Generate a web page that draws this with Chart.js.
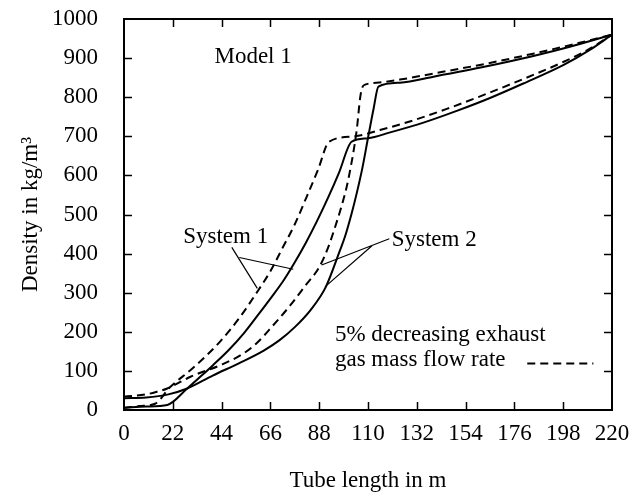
<!DOCTYPE html>
<html>
<head>
<meta charset="utf-8">
<script src="https://cdn.jsdelivr.net/npm/chart.js@4/dist/chart.umd.min.js"></script>
<style>
html,body{margin:0;padding:0;background:#fff;}
#wrap{width:639px;height:502px;}
</style>
</head>
<body>
<div id="wrap"><canvas id="c" width="639" height="502"></canvas></div>
<script>
// ---- data ----
const xTicks = [0, 22, 44, 66, 88, 110, 132, 154, 176, 198, 220];
const yTicks = [0, 100, 200, 300, 400, 500, 600, 700, 800, 900, 1000];

// System 1, base exhaust gas mass flow rate (solid)
const system1Solid = [
  [0, 6], [10, 9], [19.5, 13], [28.5, 55], [35, 88], [40, 114], [47, 152], [54, 196], [60, 240], [66, 285],
  [72, 332], [77, 378], [82, 428], [87, 483], [92, 543], [97, 608], [102.6, 686],
  [110, 695], [120, 710], [135, 735], [150, 765], [165, 798], [180, 835], [198, 882], [210, 921], [220, 960]
];
// System 1, 5% decreased flow (dashed)
const system1Dashed = [
  [0, 5], [7, 10], [14, 16], [20.7, 58], [31.2, 108], [43.3, 175], [52.6, 240], [59.8, 300],
  [66, 355], [71.8, 418], [77, 475], [82.4, 546], [87.5, 615], [92.4, 686],
  [104, 700], [115.4, 716], [130, 740], [145.5, 770], [160, 801], [175.5, 836], [198, 890], [210, 924], [220, 960]
];
// System 2, base flow (solid)
const system2Solid = [
  [0, 30], [10, 32], [20, 40], [28.5, 55], [40, 88], [52, 120], [63, 152], [70, 178],
  [77, 212], [84, 255], [91, 315], [97.4, 409], [99.6, 443], [102.5, 500], [104.9, 554],
  [107.5, 620], [110.1, 699], [112.5, 770], [114.7, 827],
  [124.4, 837], [140, 853], [163.5, 879], [185, 906], [201, 929], [220, 960]
];
// System 2, 5% decreased flow (dashed)
const system2Dashed = [
  [0, 34], [10, 40], [15, 47], [19.5, 55], [30, 85], [43.6, 115], [54, 145], [60, 172],
  [67, 215], [75, 268], [82, 320], [88, 365], [92, 415], [95, 465], [98, 520], [100.4, 571],
  [102.5, 630], [104, 680], [105, 720], [106.5, 800], [107.5, 826], [108.7, 832],
  [116, 838], [124.4, 845], [140, 861], [163.5, 886], [185, 912], [201, 933], [220, 960]
];

// ---- annotations (data coordinates) ----
const labelTexts = [
  { text: 'Model 1', x: 58.2, y: 903, align: 'center', base: 'middle' },
  { text: 'System 1', x: 26.7, y: 427, align: 'left', base: 'alphabetic' },
  { text: 'System 2', x: 120.7, y: 419, align: 'left', base: 'alphabetic' },
  { text: '5% decreasing exhaust', x: 95.1, y: 177, align: 'left', base: 'alphabetic' },
  { text: 'gas mass flow rate', x: 95.1, y: 113, align: 'left', base: 'alphabetic' }
];
const pointerLines = [
  [[48.6, 416], [60.1, 311]],
  [[52, 390], [76.3, 360]],
  [[119.6, 438], [89.1, 371]],
  [[111.8, 420], [90.6, 315]]
];
const legendDash = [[181.8, 119], [211.6, 119]];

const FONT = '"Liberation Serif", "Times New Roman", serif';
const FSIZE = 23;
const DASH = [8, 5];

function toXY(arr) { return arr.map(p => ({ x: p[0], y: p[1] })); }

const framePlugin = {
  id: 'frameAndNotes',
  afterDatasetsDraw(chart) {
    const { ctx, chartArea: a, scales: { x, y } } = chart;
    ctx.save();
    ctx.strokeStyle = '#000';
    ctx.lineWidth = 2;
    ctx.setLineDash([]);
    ctx.strokeRect(a.left, a.top, a.right - a.left, a.bottom - a.top);
    const tl = 8;
    ctx.lineWidth = 1.5;
    ctx.beginPath();
    xTicks.forEach(v => {
      if (v === xTicks[0] || v === xTicks[xTicks.length - 1]) return;
      const px = Math.round(x.getPixelForValue(v)) + 0.5;
      ctx.moveTo(px, a.bottom); ctx.lineTo(px, a.bottom - tl);
      ctx.moveTo(px, a.top); ctx.lineTo(px, a.top + tl);
    });
    yTicks.forEach(v => {
      if (v === yTicks[0] || v === yTicks[yTicks.length - 1]) return;
      const py = Math.round(y.getPixelForValue(v)) + 0.5;
      ctx.moveTo(a.left, py); ctx.lineTo(a.left + tl, py);
      ctx.moveTo(a.right, py); ctx.lineTo(a.right - tl, py);
    });
    ctx.stroke();
    ctx.lineWidth = 1.2;
    ctx.beginPath();
    pointerLines.forEach(l => {
      ctx.moveTo(x.getPixelForValue(l[0][0]), y.getPixelForValue(l[0][1]));
      ctx.lineTo(x.getPixelForValue(l[1][0]), y.getPixelForValue(l[1][1]));
    });
    ctx.stroke();
    ctx.lineWidth = 2;
    ctx.setLineDash(DASH);
    ctx.beginPath();
    ctx.moveTo(x.getPixelForValue(legendDash[0][0]), y.getPixelForValue(legendDash[0][1]));
    ctx.lineTo(x.getPixelForValue(legendDash[1][0]), y.getPixelForValue(legendDash[1][1]));
    ctx.stroke();
    ctx.setLineDash([]);
    ctx.fillStyle = '#000';
    ctx.font = FSIZE + 'px ' + FONT;
    labelTexts.forEach(t => {
      ctx.textAlign = t.align;
      ctx.textBaseline = t.base;
      ctx.fillText(t.text, x.getPixelForValue(t.x), y.getPixelForValue(t.y));
    });
    ctx.restore();
  }
};

const common = { showLine: true, pointRadius: 0, borderColor: '#000', borderWidth: 2, cubicInterpolationMode: 'monotone', fill: false };

new Chart(document.getElementById('c'), {
  type: 'scatter',
  data: {
    datasets: [
      Object.assign({ label: 'System 1', data: toXY(system1Solid) }, common),
      Object.assign({ label: 'System 1 (5% less flow)', data: toXY(system1Dashed), borderDash: DASH }, common),
      Object.assign({ label: 'System 2', data: toXY(system2Solid) }, common),
      Object.assign({ label: 'System 2 (5% less flow)', data: toXY(system2Dashed), borderDash: DASH }, common)
    ]
  },
  options: {
    responsive: false,
    animation: false,
    devicePixelRatio: 1,
    layout: { padding: { top: 19, right: 27, left: 0, bottom: 0 } },
    plugins: { legend: { display: false }, tooltip: { enabled: false } },
    scales: {
      x: {
        type: 'linear', min: 0, max: 220,
        afterBuildTicks: s => { s.ticks = xTicks.map(v => ({ value: v })); },
        afterFit: s => { s.height = 92; s.paddingLeft = 0; s.paddingRight = 0; },
        grid: { display: false, drawTicks: false },
        border: { display: false },
        ticks: { color: '#000', padding: 10, font: { family: FONT, size: FSIZE }, maxRotation: 0, autoSkip: false, callback: v => String(v) },
        title: { display: true, text: 'Tube length in m', color: '#000', font: { family: FONT, size: FSIZE }, padding: { bottom: 7 } }
      },
      y: {
        type: 'linear', min: 0, max: 1000,
        afterBuildTicks: s => { s.ticks = yTicks.map(v => ({ value: v })); },
        afterFit: s => { s.width = 124; s.paddingTop = 0; s.paddingBottom = 0; },
        grid: { display: false, drawTicks: false },
        border: { display: false },
        ticks: { color: '#000', padding: 26, font: { family: FONT, size: FSIZE }, autoSkip: false, callback: v => String(v) },
        title: { display: true, text: 'Density in kg/m³', color: '#000', font: { family: FONT, size: FSIZE }, padding: { top: 17 } }
      }
    }
  },
  plugins: [framePlugin]
});
</script>
</body>
</html>
